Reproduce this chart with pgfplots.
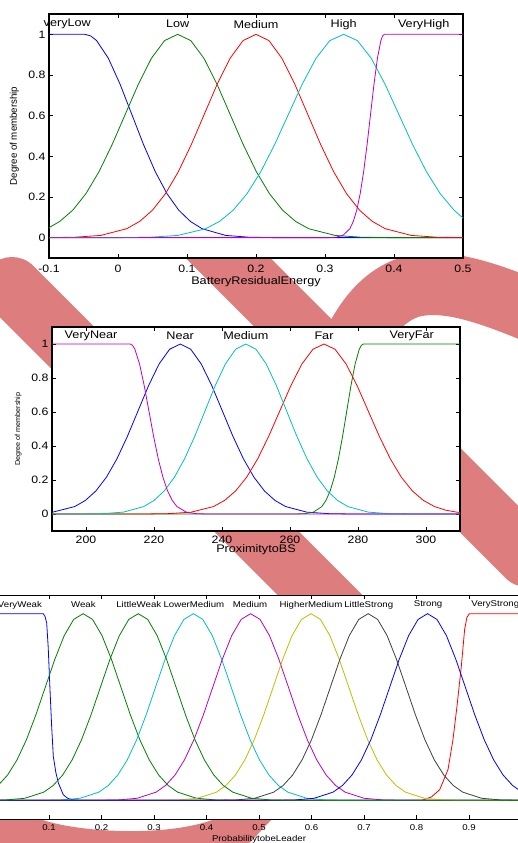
\documentclass[border=0pt]{standalone}
\usepackage{fontspec}
\setmainfont{Liberation Sans}[FakeStretch=1.15]
\newfontfamily\plainsans{Liberation Sans}
\usepackage{pgfplots}
\pgfplotsset{compat=1.18}
\definecolor{wm}{RGB}{221,125,125}
\definecolor{mb}{rgb}{0,0,1}
\definecolor{mg}{rgb}{0,0.5,0}
\definecolor{mr}{rgb}{1,0,0}
\definecolor{mc}{rgb}{0,0.75,0.75}
\definecolor{mm}{rgb}{0.75,0,0.75}
\definecolor{my}{rgb}{0.75,0.75,0}
\definecolor{mk}{rgb}{0.25,0.25,0.25}
\pgfplotsset{
 mfaxis/.style={
  scale only axis, clip mode=individual,
  axis background/.style={fill=white},
  ymin=-0.1, ymax=1.1, ytick={0,0.2,0.4,0.6,0.8,1},
  tick align=inside, major tick length=4pt,
  axis line style={line width=1.1pt},
  every tick/.style={black, line width=0.7pt},
  /pgf/number format/assume math mode=true,
  every axis plot/.append style={line width=0.8pt, mark=none},
 }
}
\begin{document}
\begin{tikzpicture}[x=1pt,y=1pt]
\useasboundingbox (0pt,0pt) rectangle (517pt,-843pt);
% watermark
\draw[wm, line width=60pt, line cap=round] (12pt,-287pt) -- (345pt,-620pt);
\draw[wm, line width=60pt, line cap=round] (140pt,-170pt) -- (527pt,-557pt);
\draw[wm, line width=62pt] (335pt,-390pt) .. controls (350pt,-345pt) and (370pt,-300pt) .. (410pt,-287pt) .. controls (450pt,-276pt) and (500pt,-297pt) .. (570pt,-327pt);
\fill[wm] (-5pt,-819pt) -- (40pt,-819pt) .. controls (75pt,-832pt) and (165pt,-838pt) .. (215pt,-819pt) -- (272pt,-819pt) -- (243pt,-850pt) -- (-5pt,-850pt) -- cycle;

% ---------- panel 1
\begin{axis}[mfaxis, at={(49pt,-258pt)}, anchor=south west, width=414pt, height=244pt,
 xmin=-0.1, xmax=0.5, xtick={-0.1,0,0.1,0.2,0.3,0.4,0.5},
 ticklabel style={font=\fontsize{10.7}{12}\selectfont},
 xticklabel style={anchor=center, yshift=-11pt},
 xlabel={BatteryResidualEnergy},
 xlabel style={at={(axis description cs:0.5,-0.0984)}, anchor=center, font=\fontsize{11}{13}\selectfont},
 ylabel={Degree of membership},
 ylabel style={at={(axis description cs:-0.0838,0.5)}, anchor=center, font=\plainsans\fontsize{9.7}{11}\selectfont},
]
\addplot[mb] coordinates {(-0.1,1)(-0.048,1)(-0.0395,0.9922)(-0.031,0.9692)(-0.014,0.8825)(0.003,0.7548)(0.020,0.6065)(0.037,0.4578)(0.054,0.3247)(0.071,0.2163)(0.088,0.1353)(0.105,0.0796)(0.122,0.0439)(0.156,0.0111)(0.190,0.0022)(0.224,0.0003)(0.5,0)};
\addplot[mg] coordinates {(-0.1,0.0493)(-0.0845,0.0796)(-0.0655,0.1353)(-0.0465,0.2163)(-0.0275,0.3247)(-0.0085,0.4578)(0.0105,0.6065)(0.0295,0.7548)(0.0485,0.8825)(0.0675,0.9692)(0.0865,1)(0.1055,0.9692)(0.1245,0.8825)(0.1435,0.7548)(0.1625,0.6065)(0.1815,0.4578)(0.2005,0.3247)(0.2195,0.2163)(0.2385,0.1353)(0.2575,0.0796)(0.2765,0.0439)(0.3145,0.0111)(0.3525,0.0022)(0.3905,0.0003)(0.5,0)};
\addplot[mr] coordinates {(-0.1,0.0003)(-0.0625,0.0022)(-0.025,0.0111)(0.0125,0.0439)(0.03125,0.0796)(0.05,0.1353)(0.06875,0.2163)(0.0875,0.3247)(0.10625,0.4578)(0.125,0.6065)(0.14375,0.7548)(0.1625,0.8825)(0.18125,0.9692)(0.2,1)(0.21875,0.9692)(0.2375,0.8825)(0.25625,0.7548)(0.275,0.6065)(0.29375,0.4578)(0.3125,0.3247)(0.33125,0.2163)(0.35,0.1353)(0.36875,0.0796)(0.3875,0.0439)(0.425,0.0111)(0.4625,0.0022)(0.5,0.0003)};
\addplot[mc] coordinates {(-0.1,0)(0.007,0.0003)(0.047,0.0022)(0.087,0.0111)(0.127,0.0439)(0.147,0.0796)(0.167,0.1353)(0.187,0.2163)(0.207,0.3247)(0.227,0.4578)(0.247,0.6065)(0.267,0.7548)(0.287,0.8825)(0.307,0.9692)(0.327,1)(0.347,0.9692)(0.367,0.8825)(0.387,0.7548)(0.407,0.6065)(0.427,0.4578)(0.447,0.3247)(0.467,0.2163)(0.487,0.1353)(0.5,0.0965)};
\addplot[mm] coordinates {(-0.1,0)(0.306,0.0003)(0.316,0.0022)(0.326,0.0111)(0.336,0.0439)(0.341,0.0796)(0.346,0.1353)(0.351,0.2163)(0.356,0.3247)(0.361,0.4578)(0.366,0.6065)(0.371,0.7548)(0.376,0.8825)(0.381,0.9692)(0.3835,0.9922)(0.386,1)(0.5,1)};
\begin{scope}[every node/.style={font=\fontsize{11}{13}\selectfont, anchor=center}]
\node at (axis cs:-0.0735,1.05) {veryLow};
\node at (axis cs:0.0865,1.05) {Low};
\node at (axis cs:0.2,1.05) {Medium};
\node at (axis cs:0.327,1.05) {High};
\node at (axis cs:0.443,1.05) {VeryHigh};
\end{scope}
\end{axis}

% ---------- panel 2
\begin{axis}[mfaxis, at={(52pt,-531pt)}, anchor=south west, width=408pt, height=204pt,
 xmin=190, xmax=310, xtick={200,220,240,260,280,300},
 ticklabel style={font=\fontsize{10.7}{12}\selectfont},
 xticklabel style={anchor=center, yshift=-8.5pt},
 xlabel={ProximitytoBS},
 xlabel style={at={(axis description cs:0.5,-0.0931)}, anchor=center, font=\fontsize{11}{13}\selectfont},
 ylabel={Degree of membership},
 ylabel style={at={(axis description cs:-0.0826,0.5)}, anchor=center, font=\plainsans\fontsize{7.2}{9}\selectfont},
]
\addplot[mb] coordinates {(190,0.0098)(196.7,0.0439)(199.8,0.0796)(202.9,0.1353)(206.0,0.2163)(209.1,0.3247)(212.2,0.4578)(215.3,0.6065)(218.4,0.7548)(221.5,0.8825)(224.6,0.9692)(227.7,1)(230.8,0.9692)(233.9,0.8825)(237.0,0.7548)(240.1,0.6065)(243.2,0.4578)(246.3,0.3247)(249.4,0.2163)(252.5,0.1353)(255.6,0.0796)(258.7,0.0439)(264.9,0.0111)(271.1,0.0022)(277.3,0.0003)(310,0)};
\addplot[mg] coordinates {(190,0)(262,0.0003)(264.45,0.0022)(266.9,0.0111)(269.35,0.0439)(270.575,0.0796)(271.8,0.1353)(273.025,0.2163)(274.25,0.3247)(275.475,0.4578)(276.7,0.6065)(277.925,0.7548)(279.15,0.8825)(280.375,0.9692)(280.99,0.9922)(281.6,1)(310,1)};
\addplot[mr] coordinates {(190,0)(218,0.0003)(224.5,0.0022)(231,0.0111)(237.5,0.0439)(240.75,0.0796)(244,0.1353)(247.25,0.2163)(250.5,0.3247)(253.75,0.4578)(257,0.6065)(260.25,0.7548)(263.5,0.8825)(266.75,0.9692)(270,1)(273.25,0.9692)(276.5,0.8825)(279.75,0.7548)(283,0.6065)(286.25,0.4578)(289.5,0.3247)(292.75,0.2163)(296,0.1353)(299.25,0.0796)(302.5,0.0439)(305.75,0.0228)(309,0.0111)(310,0.0088)};
\addplot[mc] coordinates {(190,0)(199,0.0003)(205,0.0022)(211,0.0111)(217,0.0439)(220,0.0796)(223,0.1353)(226,0.2163)(229,0.3247)(232,0.4578)(235,0.6065)(238,0.7548)(241,0.8825)(244,0.9692)(247,1)(250,0.9692)(253,0.8825)(256,0.7548)(259,0.6065)(262,0.4578)(265,0.3247)(268,0.2163)(271,0.1353)(274,0.0796)(277,0.0439)(283,0.0111)(289,0.0022)(295,0.0003)(310,0)};
\addplot[mm] coordinates {(190,1)(213,1)(213.69,0.9922)(214.375,0.9692)(215.75,0.8825)(217.125,0.7548)(218.5,0.6065)(219.875,0.4578)(221.25,0.3247)(222.625,0.2163)(224,0.1353)(225.375,0.0796)(226.75,0.0439)(229.5,0.0111)(232.25,0.0022)(235,0.0003)(310,0)};
\begin{scope}[every node/.style={font=\fontsize{11}{13}\selectfont, anchor=center}]
\node at (axis cs:201.5,1.05) {VeryNear};
\node at (axis cs:227.7,1.05) {Near};
\node at (axis cs:247,1.05) {Medium};
\node at (axis cs:270,1.05) {Far};
\node at (axis cs:295.8,1.05) {VeryFar};
\end{scope}
\end{axis}

% ---------- panel 3
\begin{axis}[mfaxis, at={(-3.5pt,-819pt)}, anchor=south west, width=525pt, height=224pt,
 xmin=0, xmax=1, xtick={0,0.1,0.2,0.3,0.4,0.5,0.6,0.7,0.8,0.9,1},
 axis line style={line width=0.9pt},
 ticklabel style={font=\fontsize{8.4}{10}\selectfont},
 xticklabel style={anchor=center, yshift=-9pt},
 xlabel={ProbabilitytobeLeader},
 xlabel style={at={(axis description cs:0.5,-0.0893)}, anchor=center, font=\fontsize{8.4}{10}\selectfont},
]
\addplot[mb] coordinates {(0,1)(0.089,1)(0.0925,0.985)(0.0956,0.95)(0.0985,0.82)(0.1019,0.594)(0.105,0.40)(0.1082,0.236)(0.113,0.15)(0.1178,0.093)(0.1272,0.03)(0.135,0.012)(0.143,0.004)(0.16,0)(1,0)};
\addplot[mg] coordinates {(0,0.0724)(0.003,0.0796)(0.021,0.1353)(0.039,0.2163)(0.057,0.3247)(0.075,0.4578)(0.093,0.6065)(0.111,0.7548)(0.129,0.8825)(0.147,0.9692)(0.165,1)(0.183,0.9692)(0.201,0.8825)(0.219,0.7548)(0.237,0.6065)(0.255,0.4578)(0.273,0.3247)(0.291,0.2163)(0.309,0.1353)(0.327,0.0796)(0.345,0.0439)(0.381,0.0111)(0.417,0.0022)(0.453,0.0003)(1,0)};
\addplot[mr] coordinates {(0,0)(0.81,0)(0.8283,0.018)(0.8442,0.057)(0.86,0.165)(0.8695,0.326)(0.8771,0.504)(0.8854,0.719)(0.8917,0.916)(0.896,0.98)(0.9006,1)(1,1)};
\addplot[mc] coordinates {(0,0)(0.087,0.0003)(0.123,0.0022)(0.159,0.0111)(0.195,0.0439)(0.213,0.0796)(0.231,0.1353)(0.249,0.2163)(0.267,0.3247)(0.285,0.4578)(0.303,0.6065)(0.321,0.7548)(0.339,0.8825)(0.357,0.9692)(0.375,1)(0.393,0.9692)(0.411,0.8825)(0.429,0.7548)(0.447,0.6065)(0.465,0.4578)(0.483,0.3247)(0.501,0.2163)(0.519,0.1353)(0.537,0.0796)(0.555,0.0439)(0.591,0.0111)(0.627,0.0022)(0.663,0.0003)(1,0)};
\addplot[mm] coordinates {(0,0)(0.196,0.0003)(0.232,0.0022)(0.268,0.0111)(0.304,0.0439)(0.322,0.0796)(0.340,0.1353)(0.358,0.2163)(0.376,0.3247)(0.394,0.4578)(0.412,0.6065)(0.430,0.7548)(0.448,0.8825)(0.466,0.9692)(0.484,1)(0.502,0.9692)(0.520,0.8825)(0.538,0.7548)(0.556,0.6065)(0.574,0.4578)(0.592,0.3247)(0.610,0.2163)(0.628,0.1353)(0.646,0.0796)(0.664,0.0439)(0.700,0.0111)(0.736,0.0022)(0.772,0.0003)(1,0)};
\addplot[my] coordinates {(0,0)(0.311,0.0003)(0.347,0.0022)(0.383,0.0111)(0.419,0.0439)(0.437,0.0796)(0.455,0.1353)(0.473,0.2163)(0.491,0.3247)(0.509,0.4578)(0.527,0.6065)(0.545,0.7548)(0.563,0.8825)(0.581,0.9692)(0.599,1)(0.617,0.9692)(0.635,0.8825)(0.653,0.7548)(0.671,0.6065)(0.689,0.4578)(0.707,0.3247)(0.725,0.2163)(0.743,0.1353)(0.761,0.0796)(0.779,0.0439)(0.815,0.0111)(0.851,0.0022)(0.887,0.0003)(1,0)};
\addplot[mk] coordinates {(0,0)(0.420,0.0003)(0.456,0.0022)(0.492,0.0111)(0.528,0.0439)(0.546,0.0796)(0.564,0.1353)(0.582,0.2163)(0.600,0.3247)(0.618,0.4578)(0.636,0.6065)(0.654,0.7548)(0.672,0.8825)(0.690,0.9692)(0.708,1)(0.726,0.9692)(0.744,0.8825)(0.762,0.7548)(0.780,0.6065)(0.798,0.4578)(0.816,0.3247)(0.834,0.2163)(0.852,0.1353)(0.870,0.0796)(0.888,0.0439)(0.924,0.0111)(0.960,0.0022)(0.996,0.0003)(1,0)};
\addplot[mb] coordinates {(0,0)(0.533,0.0003)(0.569,0.0022)(0.605,0.0111)(0.641,0.0439)(0.659,0.0796)(0.677,0.1353)(0.695,0.2163)(0.713,0.3247)(0.731,0.4578)(0.749,0.6065)(0.767,0.7548)(0.785,0.8825)(0.803,0.9692)(0.821,1)(0.839,0.9692)(0.857,0.8825)(0.875,0.7548)(0.893,0.6065)(0.911,0.4578)(0.929,0.3247)(0.947,0.2163)(0.965,0.1353)(0.983,0.0796)(1,0.0455)};
\addplot[mg] coordinates {(0,0.0009)(0.018,0.0022)(0.054,0.0111)(0.090,0.0439)(0.108,0.0796)(0.126,0.1353)(0.144,0.2163)(0.162,0.3247)(0.180,0.4578)(0.198,0.6065)(0.216,0.7548)(0.234,0.8825)(0.252,0.9692)(0.270,1)(0.288,0.9692)(0.306,0.8825)(0.324,0.7548)(0.342,0.6065)(0.360,0.4578)(0.378,0.3247)(0.396,0.2163)(0.414,0.1353)(0.432,0.0796)(0.450,0.0439)(0.486,0.0111)(0.522,0.0022)(0.558,0.0003)(1,0)};
\begin{scope}[every node/.style={font=\fontsize{8.4}{10}\selectfont, anchor=center}]
\node at (axis cs:0.0446,1.047) {VeryWeak};
\node at (axis cs:0.1654,1.047) {Weak};
\node at (axis cs:0.271,1.047) {LittleWeak};
\node at (axis cs:0.376,1.047) {LowerMedium};
\node at (axis cs:0.483,1.047) {Medium};
\node at (axis cs:0.599,1.047) {HigherMedium};
\node at (axis cs:0.709,1.047) {LittleStrong};
\node at (axis cs:0.822,1.047) {Strong};
\node at (axis cs:0.95,1.047) {VeryStrong};
\end{scope}
\end{axis}
\end{tikzpicture}
\end{document}
